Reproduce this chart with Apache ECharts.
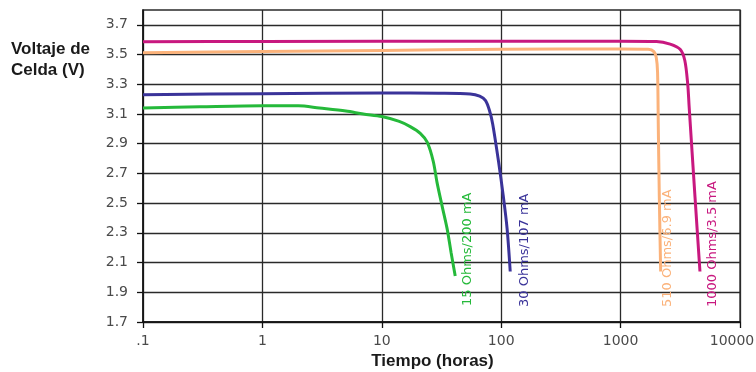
<!DOCTYPE html>
<html>
<head>
<meta charset="utf-8">
<script src="https://cdn.jsdelivr.net/npm/echarts@6/dist/echarts.min.js"></script>
<style>
  html, body { margin: 0; padding: 0; background: #fff; }
  #chart { width: 756px; height: 372px; }
</style>
</head>
<body>
<div id="chart"></div>
<script>
// Discharge curves: cell voltage vs time (log hours) for four loads
const yTicks = [1.7, 1.9, 2.1, 2.3, 2.5, 2.7, 2.9, 3.1, 3.3, 3.5, 3.7];

const hours15 = [0.1, 0.3, 1, 2, 3, 5, 7, 10, 14, 17.3, 21, 24, 27, 29, 32, 35.2, 38, 41.2];
const volts15 = [3.14, 3.148, 3.155, 3.155, 3.14, 3.12, 3.10, 3.083, 3.05, 3.015, 2.97, 2.91, 2.78, 2.64, 2.48, 2.33, 2.17, 2.01];

const hours30 = [0.1, 1, 10, 30, 55, 66, 74, 80, 85, 95, 104, 112, 119];
const volts30 = [3.23, 3.237, 3.242, 3.24, 3.235, 3.22, 3.19, 3.12, 3.03, 2.78, 2.55, 2.33, 2.04];

const hours510 = [0.1, 1, 10, 100, 1000, 1700, 1900, 1990, 2040, 2070, 2110, 2165];
const volts510 = [3.513, 3.52, 3.528, 3.535, 3.538, 3.535, 3.52, 3.48, 3.38, 3.0, 2.54, 2.04];

const hours1000 = [0.1, 1, 100, 1000, 2000, 2600, 3150, 3450, 3650, 3750, 4200, 4620];
const volts1000 = [3.587, 3.588, 3.59, 3.59, 3.588, 3.57, 3.535, 3.46, 3.3, 3.15, 2.54, 2.04];

const names = ['15 Ohms/200 mA', '30 Ohms/107 mA', '510 Ohms/6.9 mA', '1000 Ohms/3.5 mA'];
const colors = ['#25b93a', '#3a3399', '#fbb27a', '#c8187f'];

const zip = (xs, ys) => xs.map((x, i) => [x, ys[i]]);
const seriesData = [
  zip(hours15, volts15),
  zip(hours30, volts30),
  zip(hours510, volts510),
  zip(hours1000, volts1000)
];

const gridColor = '#2a2a2a';
const tickFont = { fontFamily: 'DejaVu Sans', fontSize: 14, color: '#4a4a4a' };

const chart = echarts.init(document.getElementById('chart'));

// Curve captions, set vertically beneath each curve's end
const captionPos = [[468, 306], [525, 307], [668, 307], [713, 307]];

chart.setOption({
  animation: false,
  backgroundColor: '#fff',
  grid: {
    left: 143, right: 16, top: 10, bottom: 50,
    containLabel: false,
    outerBoundsMode: 'none',
    show: true, borderColor: gridColor, borderWidth: 1.3
  },
  xAxis: {
    type: 'log',
    logBase: 10,
    min: 0.1,
    max: 10000,
    axisLine: { lineStyle: { color: '#111', width: 1.5 } },
    axisTick: { show: true, length: 6, lineStyle: { color: '#111', width: 1.3 } },
    splitLine: { show: true, lineStyle: { color: gridColor, width: 1.3 } },
    minorTick: { show: false },
    axisLabel: Object.assign({
      margin: 12,
      formatter: v => (v < 1 ? '.1' : (v >= 10000 ? '{edge|10000}' : String(Math.round(v)))),
      rich: {
        // pull the last label in so it stays on the canvas
        edge: Object.assign({ padding: [0, 16, 0, 0] }, tickFont)
      }
    }, tickFont),
    name: 'Tiempo (horas)',
    nameLocation: 'middle',
    nameGap: 31,
    nameTextStyle: {
      fontFamily: 'Liberation Sans', fontWeight: 'bold', fontSize: 17,
      color: '#1a1a1a', padding: [0, 18, 0, 0]
    }
  },
  yAxis: {
    type: 'value',
    min: 1.7,
    max: 3.8,
    axisLine: { show: true, lineStyle: { color: '#111', width: 1.5 } },
    axisTick: { show: true, length: 6, customValues: yTicks, lineStyle: { color: '#111', width: 1.3 } },
    splitLine: { show: true, lineStyle: { color: gridColor, width: 1.3 } },
    axisLabel: Object.assign({
      margin: 15,
      customValues: yTicks,
      formatter: v => v.toFixed(1)
    }, tickFont)
  },
  series: seriesData.map((d, i) => ({
    type: 'line',
    name: names[i],
    data: d,
    showSymbol: false,
    smooth: 0.3,
    lineStyle: { color: colors[i], width: 3 },
    z: 3
  })),
  graphic: [
    {
      type: 'text', left: 11, top: 39,
      style: {
        text: 'Voltaje de\nCelda (V)',
        font: 'bold 17px "Liberation Sans"',
        fill: '#1a1a1a',
        lineHeight: 21
      }
    }
  ].concat(names.map((n, i) => ({
    type: 'text',
    x: captionPos[i][0],
    y: captionPos[i][1],
    rotation: Math.PI / 2,
    style: {
      text: n,
      font: '13px "DejaVu Sans"',
      fill: colors[i],
      textAlign: 'left',
      textVerticalAlign: 'middle'
    },
    z: 10
  })))
});
</script>
</body>
</html>
